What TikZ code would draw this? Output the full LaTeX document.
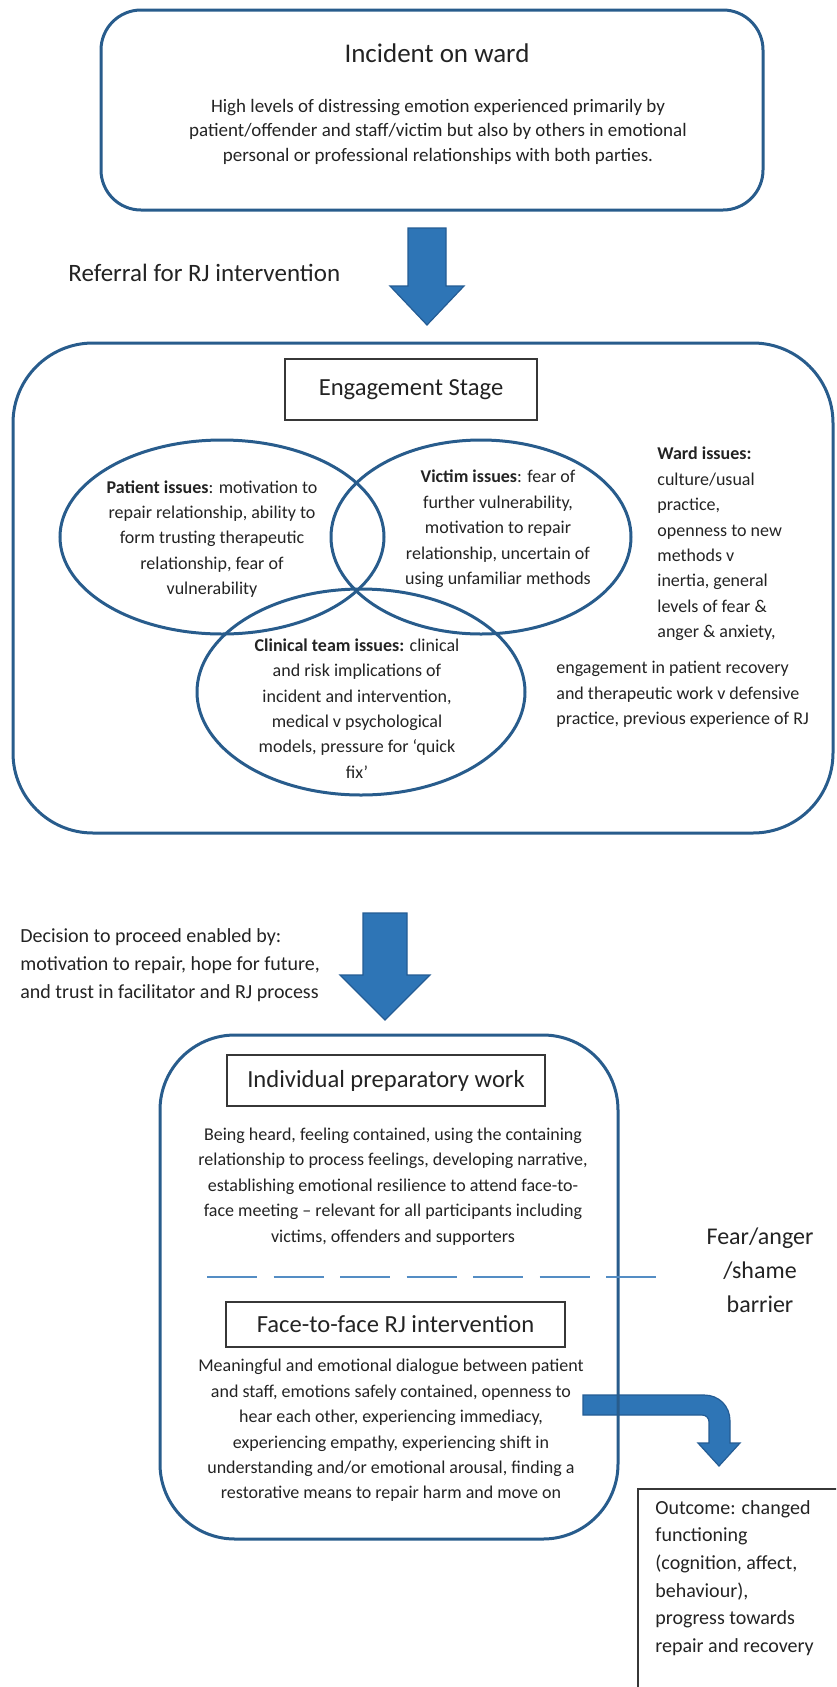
\documentclass[tikz,border=0pt]{standalone}
\usepackage{fontspec}
\setmainfont{Carlito}
\usetikzlibrary{positioning, shapes.geometric}

\definecolor{rjblue}{RGB}{40,92,140}
\definecolor{arrowfill}{RGB}{46,117,182}
\definecolor{arrowline}{RGB}{36,92,148}
\definecolor{dashblue}{RGB}{84,141,196}
\definecolor{boxgray}{RGB}{55,55,55}
\definecolor{inkgray}{RGB}{35,35,35}

\tikzset{
  stage/.style={draw=rjblue, line width=1.5pt},
  issue/.style={ellipse, draw=rjblue, line width=1.5pt, inner sep=0pt},
  heading/.style={draw=boxgray, line width=0.75pt, inner sep=0pt, text=inkgray, font=\fontsize{12.3}{15}\selectfont},
  body/.style={align=center, inner sep=0pt, text=inkgray, font=\fontsize{9}{12.7}\selectfont},
  side/.style={align=left, anchor=west, inner sep=0pt, text=inkgray},
  blockarrow/.style={fill=arrowfill, draw=arrowline, line width=0.6pt, line join=miter},
}

\begin{document}
\begin{tikzpicture}[x=0.5pt, y=-0.5pt]
\useasboundingbox (0,0) rectangle (836,1687);
\clip (0,0) rectangle (836,1687);

% incident on ward
\node[stage, rounded corners=20pt, minimum width=331pt, minimum height=100pt] (incident) at (432,110) {};
\node[body, font=\fontsize{13.5}{16}\selectfont] (incidenttitle) at (437,53) {Incident on ward};
\node[body, font=\fontsize{9.5}{12.25}\selectfont] (incidenttext) at (438,131.5) {High levels of distressing emotion experienced primarily by\\patient/offender and staff/victim but also by others in emotional\\personal or professional relationships with both parties.};

% referral
\node[side, font=\fontsize{12.5}{15}\selectfont] (referral) at (68,273) {Referral for RJ intervention};
\draw[blockarrow] (427-19,228) -- (427+19,228) -- (427+19,286) -- (427+37,286) -- (427,325) -- (427-37,286) -- (427-19,286) -- cycle;

% engagement stage
\node[stage, rounded corners=40pt, minimum width=410pt, minimum height=245pt] (engagement) at (423,588) {};
\node[heading, minimum width=126pt, minimum height=30.5pt] (engstage) at (411,389.5) {Engagement Stage};

\node[issue, minimum width=162pt, minimum height=97pt] (patientring) at (222,537) {};
\node[issue, minimum width=150pt, minimum height=97pt] (victimring) at (481,537) {};
\node[issue, minimum width=164pt, minimum height=103pt] (clinicalring) at (361,692) {};

\node[body] (patienttext) at (212,539) {\textbf{Patient issues}: motivation to\\repair relationship, ability to\\form trusting therapeutic\\relationship, fear of\\vulnerability};
\node[body] (victimtext) at (498,529) {\textbf{Victim issues}: fear of\\further vulnerability,\\motivation to repair\\relationship, uncertain of\\using unfamiliar methods};
\node[body] (clinicaltext) at (357,708.5) {\textbf{Clinical team issues:} clinical\\and risk implications of\\incident and intervention,\\medical v psychological\\models, pressure for ‘quick\\fix’};

\node[side, font=\fontsize{9}{12.7}\selectfont] (wardtext) at (657,544) {\textbf{Ward issues:}\\culture/usual\\practice,\\openness to new\\methods v\\inertia, general\\levels of fear \&\\anger \& anxiety,};
\node[side, font=\fontsize{9}{12.7}\selectfont] (wardmore) at (556,694.5) {engagement in patient recovery\\and therapeutic work v defensive\\practice, previous experience of RJ};

% decision to proceed
\node[side, font=\fontsize{10}{14}\selectfont] (decision) at (20,965) {Decision to proceed enabled by:\\motivation to repair, hope for future,\\and trust in facilitator and RJ process};
\draw[blockarrow] (385-22,913) -- (385+22,913) -- (385+22,975) -- (385+45,975) -- (385,1020) -- (385-45,975) -- (385-22,975) -- cycle;

% outcome arrow, under the box line
\draw[blockarrow] (583,1395) -- (704,1395) .. controls (719,1395) and (730,1406) .. (730,1421) -- (730,1443) -- (740,1443) -- (719,1466) -- (698,1443) -- (709,1443) -- (709,1422) .. controls (709,1418) and (706,1415) .. (702,1415) -- (583,1415) -- cycle;

% preparatory work and face-to-face
\node[stage, rounded corners=37.5pt, minimum width=229pt, minimum height=252pt] (prep) at (389,1287) {};
\node[heading, minimum width=159pt, minimum height=25.5pt] (individual) at (386,1080.5) {Individual preparatory work};
\node[body] (preptext) at (393,1186.5) {Being heard, feeling contained, using the containing\\relationship to process feelings, developing narrative,\\establishing emotional resilience to attend face-to-\\face meeting – relevant for all participants including\\victims, offenders and supporters};

\coordinate (barrierL) at (207,1277);
\coordinate (barrierR) at (656,1277);
\draw[dashblue, line width=0.65pt, dash pattern=on 25pt off 8.25pt] (barrierL) -- (barrierR);
\node[body, font=\fontsize{12}{17}\selectfont] (barrier) at (760,1270.5) {Fear/anger\\/shame\\barrier};

\node[heading, minimum width=169.5pt, minimum height=22.5pt] (facetoface) at (395.5,1324.5) {Face-to-face RJ intervention};
\node[body] (facetext) at (391,1430.5) {Meaningful and emotional dialogue between patient\\and staff, emotions safely contained, openness to\\hear each other, experiencing immediacy,\\experiencing empathy, experiencing shift in\\understanding and/or emotional arousal, finding a\\restorative means to repair harm and move on};

% outcome
\node[draw=boxgray, line width=0.75pt, anchor=north west, minimum width=111.5pt, minimum height=112.5pt] (outcome) at (637,1488) {};
\node[side, font=\fontsize{10}{13.8}\selectfont] (outcometext) at (655,1578) {Outcome: changed\\functioning\\(cognition, affect,\\behaviour),\\progress towards\\repair and recovery};
\end{tikzpicture}
\end{document}
